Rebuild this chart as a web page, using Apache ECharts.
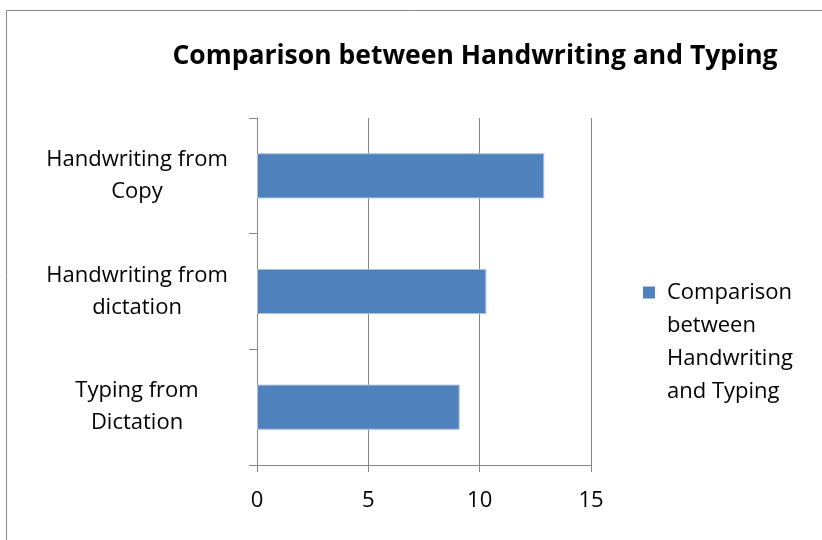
<!DOCTYPE html>
<html>
<head>
<meta charset="utf-8">
<script src="https://cdn.jsdelivr.net/npm/echarts@6/dist/echarts.min.js"></script>
<style>
  html, body { margin: 0; padding: 0; background: #fff; }
  #chart { width: 822px; height: 540px; }
</style>
</head>
<body>
<div id="chart"></div>
<script>
// data
var categories = ["Handwriting from\nCopy", "Handwriting from\ndictation", "Typing from\nDictation"];
var values = [12.9, 10.3, 9.1];
var seriesName = "Comparison between Handwriting and Typing";
var xTicks = [0, 5, 10, 15];

var font = "Open Sans";

var option = {
  animation: false,
  backgroundColor: "#fff",
  title: {
    text: "Comparison between Handwriting and Typing",
    left: 470,
    top: 38,
    textAlign: "center",
    textStyle: { fontFamily: font, fontSize: 26.5, fontWeight: "bold", color: "#000" }
  },
  graphic: [
    {
      type: "rect",
      shape: { x: 6.5, y: 10.5, width: 900, height: 600 },
      style: { fill: null, stroke: "#868686", lineWidth: 1 },
      silent: true
    }
  ],
  legend: {
    left: 638,
    top: 172,
    orient: "vertical",
    itemWidth: 12,
    itemHeight: 12,
    itemGap: 0,
    icon: "rect",
    itemStyle: { borderWidth: 0 },
    // blank lines above keep the square level with the first line of text
    formatter: function () { return "\n\n\nComparison\nbetween\nHandwriting\nand Typing"; },
    textStyle: { fontFamily: font, fontSize: 22, color: "#000", lineHeight: 33, padding: [0, 0, 0, 7] }
  },
  grid: { left: 257, right: 231, top: 118, bottom: 75, containLabel: false },
  xAxis: {
    type: "value",
    min: 0,
    max: 15,
    interval: 5,
    axisLine: { show: true, lineStyle: { color: "#868686", width: 1 } },
    axisTick: { show: true, length: 7, lineStyle: { color: "#868686" } },
    splitLine: { show: true, lineStyle: { color: "#868686", width: 1 } },
    axisLabel: { fontFamily: font, fontSize: 22, color: "#000", margin: 25 }
  },
  yAxis: {
    type: "category",
    inverse: true,
    data: categories,
    axisLine: { show: true, lineStyle: { color: "#868686", width: 1 } },
    axisTick: { show: true, length: 8, lineStyle: { color: "#868686" } },
    axisLabel: { fontFamily: font, fontSize: 22, color: "#000", align: "center", lineHeight: 32, margin: 120, padding: [6, 0, 0, 0] }
  },
  series: [
    {
      name: seriesName,
      type: "bar",
      data: values,
      barWidth: "39%",
      itemStyle: { color: "#4F81BD", borderColor: "#a9c0df", borderWidth: 1 }
    }
  ]
};

var myChart = echarts.init(document.getElementById("chart"));
myChart.setOption(option);
</script>
</body>
</html>
